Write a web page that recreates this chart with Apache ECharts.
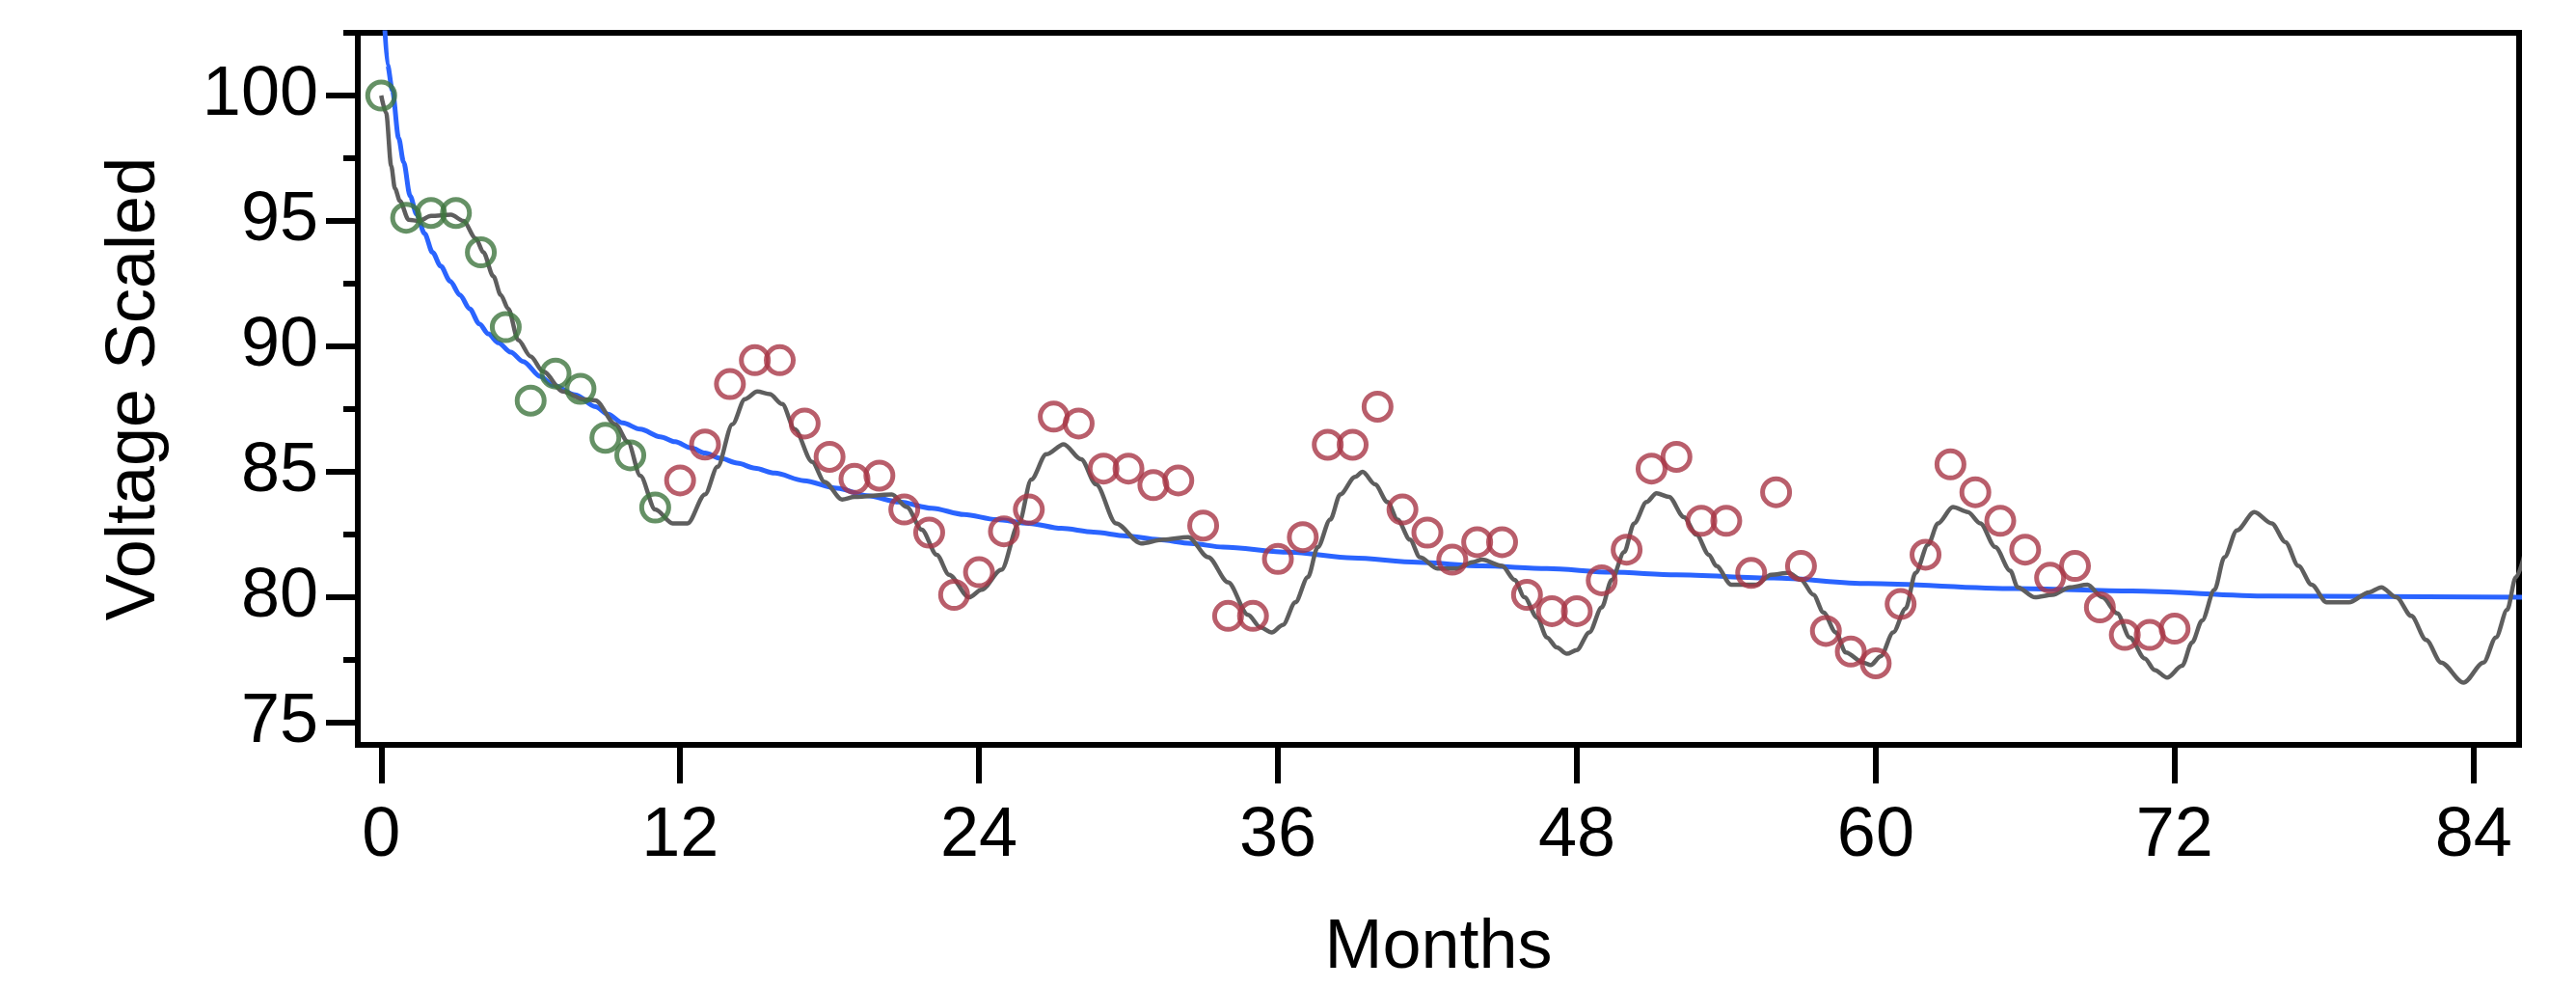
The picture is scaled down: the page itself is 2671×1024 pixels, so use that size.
<!DOCTYPE html>
<html>
<head>
<meta charset="utf-8">
<script src="https://cdn.jsdelivr.net/npm/echarts@6/dist/echarts.min.js"></script>
<style>
html,body{margin:0;padding:0;background:#fff;}
#chart{width:2671px;height:1024px;}
</style>
</head>
<body>
<div id="chart"></div>
<script>
// ---- Data ----
const xTicks = [0, 12, 24, 36, 48, 60, 72, 84];
const yTicks = [75, 80, 85, 90, 95, 100];
const yMinorTicks = [77.5, 82.5, 87.5, 92.5, 97.5, 102.5];

// Observed points, first year (green)
const greenMonths = [0,1,2,3,4,5,6,7,8,9,10,11];
const greenValues = [100, 95.13, 95.32, 95.32, 93.75, 90.77, 87.84, 88.92, 88.31, 86.36, 85.66, 83.58];

// Observed points, later months (red)
const redMonths = [12,13,14,15,16,17,18,19,20,21,22,23,24,25,26,27,28,29,30,31,32,33,34,35,36,37,38,39,40,41,42,43,44,45,46,47,48,49,50,51,52,53,54,55,56,57,58,59,60,61,62,63,64,65,66,67,68,69,70,71,72];
const redValues = [84.66, 86.09, 88.5, 89.45, 89.45, 86.93, 85.6, 84.72, 84.85, 83.5,
  82.58, 80.1, 81.0, 82.63, 83.5, 87.2, 86.93, 85.13, 85.13, 84.47,
  84.66, 82.86, 79.26, 79.26, 81.53, 82.4, 86.08, 86.08, 87.6, 83.5,
  82.58, 81.5, 82.2, 82.2, 80.1, 79.45, 79.45, 80.68, 81.9, 85.13,
  85.6, 83.05, 83.05, 80.97, 84.19, 81.25, 78.66, 77.84, 77.37, 79.73,
  81.7, 85.3, 84.19, 83.05, 81.9, 80.78, 81.25, 79.6, 78.5, 78.5, 78.75];

// Seasonal model curve (gray)
const modelMonths = [0,0.2,0.4,0.55,0.75,1.1,1.5,2.0,2.8,3.3,3.8,4.1,4.5,4.8,5.1,5.5,6.0,6.5,7.3,8.1,8.6,9.4,9.9,10.4,11.0,11.7,12.3,13.0,13.5,14.1,14.6,15.1,15.6,16.1,16.6,17.3,17.8,18.5,19.0,20.5,21.1,21.7,22.3,22.8,23.6,24.1,24.9,25.6,26.1,26.7,27.4,28.1,28.7,29.5,30.5,31.4,32.4,33.2,34.0,34.8,35.3,35.75,36.2,36.7,37.2,37.6,38.1,38.5,39.1,39.4,39.9,40.4,40.8,41.3,41.7,42.4,43.2,43.8,44.2,45.0,45.5,45.9,46.4,46.8,47.2,47.6,48.0,48.5,49.0,49.4,49.9,50.3,50.8,51.2,51.7,52.3,52.8,53.3,53.6,54.2,55.2,55.8,56.5,57.0,57.5,57.9,58.4,58.8,59.5,59.8,60.2,60.7,61.2,61.6,62.1,62.5,63.1,63.7,64.2,64.8,65.4,65.7,66.4,67.1,67.8,68.5,69.1,69.7,70.2,70.8,71.2,71.7,72.3,72.7,73.1,73.6,74.0,74.5,75.2,75.9,76.45,76.97,77.5,78.1,79.0,79.8,80.3,80.9,81.5,82.1,82.7,83.6,84.4,84.9,85.35,85.7,86.2];
const modelValues = [100,99.3,97.2,96.3,95.8,95.05,95.0,95.2,95.25,95.0,94.3,93.75,92.8,92.05,91.5,90.25,89.6,89.0,88.2,87.9,87.85,86.9,86.2,84.85,83.5,82.95,82.95,84.1,85.2,86.9,87.9,88.2,88.1,87.7,86.7,85.4,84.6,83.9,84.0,84.1,83.6,82.7,81.7,80.9,80.0,80.3,81.1,82.95,84.7,85.7,86.1,85.5,84.5,82.95,82.15,82.3,82.4,81.6,80.6,79.3,78.8,78.6,78.9,79.8,80.8,82.0,83.1,84.1,84.8,85.0,84.5,83.8,83.1,82.3,81.6,81.15,81.15,81.4,81.5,81.25,80.7,80.0,79.2,78.4,78.0,77.75,77.9,78.6,79.6,80.7,81.8,82.95,83.8,84.15,84.0,83.2,82.5,81.7,81.25,80.5,80.5,80.9,80.97,80.7,80.1,79.4,78.6,77.8,77.4,77.3,77.65,78.6,79.55,80.97,82.1,82.95,83.6,83.4,82.95,82.0,81.06,80.4,80.0,80.1,80.4,80.5,80.0,79.36,78.4,77.56,77.1,76.8,77.27,78.2,79.07,80.3,81.6,82.67,83.4,82.95,82.2,81.25,80.5,79.8,79.8,80.2,80.4,80.0,79.26,78.3,77.4,76.6,77.4,78.4,79.5,80.8,82.3];

// Decay trend curve (blue)
const trendMonths = [0.1,0.25,0.45,0.7,0.9,1.16,1.42,1.74,2.06,2.39,2.77,3.16,3.55,3.94,4.3,4.7,5.2,5.7,6.4,6.9,7.8,8.6,9.1,9.7,10.4,11.2,11.8,12.45,13.0,13.6,14.3,15.0,15.8,16.97,18.3,19.5,20.8,22.1,23.4,24.7,26.0,27.3,28.6,29.9,31.2,32.5,33.8,36.45,39.0,41.6,44.2,46.8,49.4,52.0,55.9,59.7,65.6,70.3,75.8,86.0];
const trendValues = [103.5,101.23,100.2,98.3,97.35,96.0,95.27,94.5,93.75,93.2,92.6,92.05,91.5,90.9,90.5,90.15,89.77,89.4,88.8,88.45,88.07,87.6,87.3,86.95,86.7,86.4,86.2,85.95,85.75,85.55,85.35,85.15,84.95,84.65,84.35,84.05,83.8,83.55,83.3,83.1,82.95,82.75,82.6,82.45,82.3,82.15,82.0,81.8,81.57,81.4,81.25,81.15,81.0,80.9,80.77,80.55,80.35,80.25,80.05,80.0];

// ---- Chart ----
const pair = (xs, ys) => xs.map((x, i) => [x, ys[i]]);
const FONT = 'Liberation Sans, Arial, sans-serif';
const X_MIN = -0.94, X_MAX = 85.83, Y_MIN = 74.12, Y_MAX = 102.5;

const chart = echarts.init(document.getElementById('chart'), null, {renderer: 'canvas'});
chart.setOption({
  animation: false,
  backgroundColor: '#fff',
  grid: {left: 371, right: 59, top: 34, bottom: 244.5, show: true, borderColor: '#000', borderWidth: 6, containLabel: false},
  xAxis: {
    type: 'value', min: X_MIN, max: X_MAX,
    axisLine: {show: true, onZero: false, lineStyle: {color: '#000', width: 6}},
    axisTick: {show: true, length: 40, lineStyle: {color: '#000', width: 6}, customValues: xTicks},
    axisLabel: {customValues: xTicks, fontSize: 72, fontFamily: FONT, color: '#000', margin: 59},
    splitLine: {show: false},
    name: 'Months', nameLocation: 'middle', nameGap: 175,
    nameTextStyle: {fontSize: 72, fontFamily: FONT, color: '#000'}
  },
  yAxis: [{
    type: 'value', min: Y_MIN, max: Y_MAX, position: 'left',
    axisLine: {show: true, onZero: false, lineStyle: {color: '#000', width: 6}},
    axisTick: {show: true, length: 33, lineStyle: {color: '#000', width: 6}, customValues: yTicks},
    axisLabel: {customValues: yTicks, fontSize: 72, fontFamily: FONT, color: '#000', margin: 41},
    splitLine: {show: false},
    name: 'Voltage Scaled', nameLocation: 'middle', nameGap: 195, nameRotate: 90,
    nameTextStyle: {fontSize: 72, fontFamily: FONT, color: '#000'}
  }, {
    type: 'value', min: Y_MIN, max: Y_MAX, position: 'left',
    axisLine: {show: false, onZero: false},
    axisTick: {show: true, inside: false, length: 15, lineStyle: {color: '#000', width: 6}, customValues: yMinorTicks},
    axisLabel: {show: false},
    splitLine: {show: false}
  }],
  series: [
    {
      type: 'line', name: 'trend', data: pair(trendMonths, trendValues),
      showSymbol: false, smooth: 0.3, smoothMonotone: 'x', clip: true,
      lineStyle: {color: '#2a64ff', width: 5}, z: 2, silent: true
    },
    {
      type: 'line', name: 'model', data: pair(modelMonths, modelValues),
      showSymbol: false, smooth: 0.3, smoothMonotone: 'x', clip: true,
      lineStyle: {color: '#5e5e5e', width: 4.5}, z: 3, silent: true
    },
    {
      type: 'scatter', name: 'first year', data: pair(greenMonths, greenValues),
      symbol: 'circle', symbolSize: 28,
      itemStyle: {color: 'rgba(0,0,0,0)', borderColor: '#3e763e', borderWidth: 5}, z: 4, silent: true
    },
    {
      type: 'scatter', name: 'later', data: pair(redMonths, redValues),
      symbol: 'circle', symbolSize: 28,
      itemStyle: {color: 'rgba(0,0,0,0)', borderColor: '#a83646', borderWidth: 5}, z: 4, silent: true
    }
  ]
});
</script>
</body>
</html>
